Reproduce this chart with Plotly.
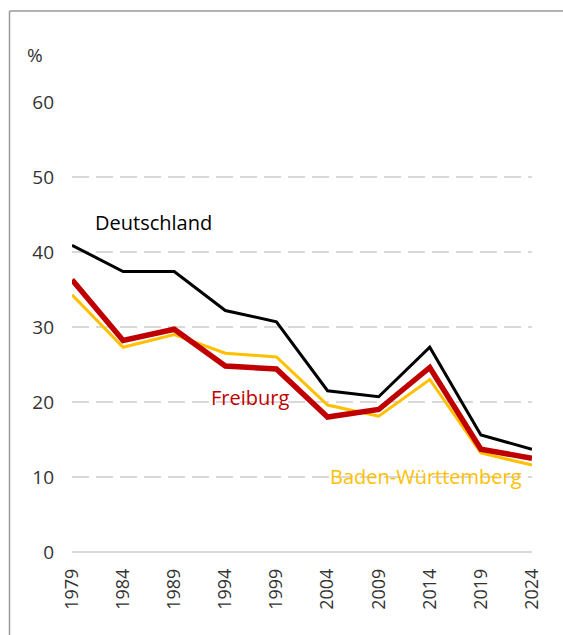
import plotly.graph_objects as go

years = [1979, 1984, 1989, 1994, 1999, 2004, 2009, 2014, 2019, 2024]
deutschland = [40.9, 37.4, 37.4, 32.2, 30.7, 21.5, 20.7, 27.3, 15.6, 13.7]
freiburg = [36.3, 28.2, 29.7, 24.8, 24.4, 18.0, 19.0, 24.6, 13.7, 12.5]
baden_wuerttemberg = [34.3, 27.3, 29.0, 26.5, 26.0, 19.6, 18.1, 23.0, 13.2, 11.6]
y_ticks = [0, 10, 20, 30, 40, 50, 60]

FONT = "Open Sans"
W, H = 563, 635
L, T = 72, 102
R = W - 532
B = H - 552
pw = W - L - R
ph = H - T - B


def px_x(p):
    return (p - L) / pw


def px_y(p):
    return (H - B - p) / ph


fig = go.Figure()
fig.add_trace(go.Scatter(x=years, y=baden_wuerttemberg, mode="lines",
                         line=dict(color="#FFC000", width=3), name="Baden-Württemberg",
                         cliponaxis=False, hoverinfo="skip"))
fig.add_trace(go.Scatter(x=years, y=freiburg, mode="lines",
                         line=dict(color="#C00000", width=5.5), name="Freiburg",
                         cliponaxis=False, hoverinfo="skip"))
fig.add_trace(go.Scatter(x=years, y=deutschland, mode="lines",
                         line=dict(color="#000000", width=3), name="Deutschland",
                         cliponaxis=False, hoverinfo="skip"))

fig.add_annotation(x=1981.1, y=44.0, xref="x", yref="y", text="Deutschland",
                   showarrow=False, xanchor="left", yanchor="middle",
                   font=dict(family=FONT, size=20, color="#000000"))
fig.add_annotation(x=1992.4, y=20.6, xref="x", yref="y", text="Freiburg",
                   showarrow=False, xanchor="left", yanchor="middle",
                   font=dict(family=FONT, size=20, color="#C00000"))
fig.add_annotation(x=2004.0, y=10.1, xref="x", yref="y", text="Baden-Württemberg",
                   showarrow=False, xanchor="left", yanchor="middle",
                   font=dict(family=FONT, size=20, color="#FFC000"))
fig.add_annotation(x=px_x(25), y=px_y(55), xref="paper", yref="paper", text="%",
                   showarrow=False, xanchor="left", yanchor="middle",
                   font=dict(family=FONT, size=19, color="#333333"))

# outer frame (left and top edges only; the rest lies outside the picture)
frame = dict(color="#9a9a9a", width=1.5)
fig.add_shape(type="line", xref="paper", yref="paper",
              x0=px_x(9.5), x1=px_x(9.5), y0=px_y(640), y1=px_y(11),
              line=frame, layer="below")
fig.add_shape(type="line", xref="paper", yref="paper",
              x0=px_x(9.5), x1=px_x(570), y0=px_y(11), y1=px_y(11),
              line=frame, layer="below")

fig.update_layout(
    width=W, height=H,
    margin=dict(l=L, r=R, t=T, b=B),
    paper_bgcolor="white", plot_bgcolor="white",
    showlegend=False,
    font=dict(family=FONT, size=19, color="#333333"),
    xaxis=dict(range=[1979, 2024], tickvals=years, ticktext=[str(y) for y in years],
               tickangle=-90, showgrid=False, zeroline=False, showline=False,
               ticks="", ticklabelstandoff=12,
               tickfont=dict(family=FONT, size=18, color="#333333")),
    yaxis=dict(range=[0, 60], tickvals=y_ticks, showgrid=True,
               gridcolor="#d9d9d9", gridwidth=2, griddash="17px,7px",
               zeroline=True, zerolinecolor="#d9d9d9", zerolinewidth=2,
               showline=False, ticks="", ticklabelstandoff=17,
               tickfont=dict(family=FONT, size=19, color="#333333")),
)

fig.write_html(
    "out.html",
    config={"displayModeBar": False},
    post_script="document.body.style.margin='0';document.body.style.overflow='hidden';",
)
